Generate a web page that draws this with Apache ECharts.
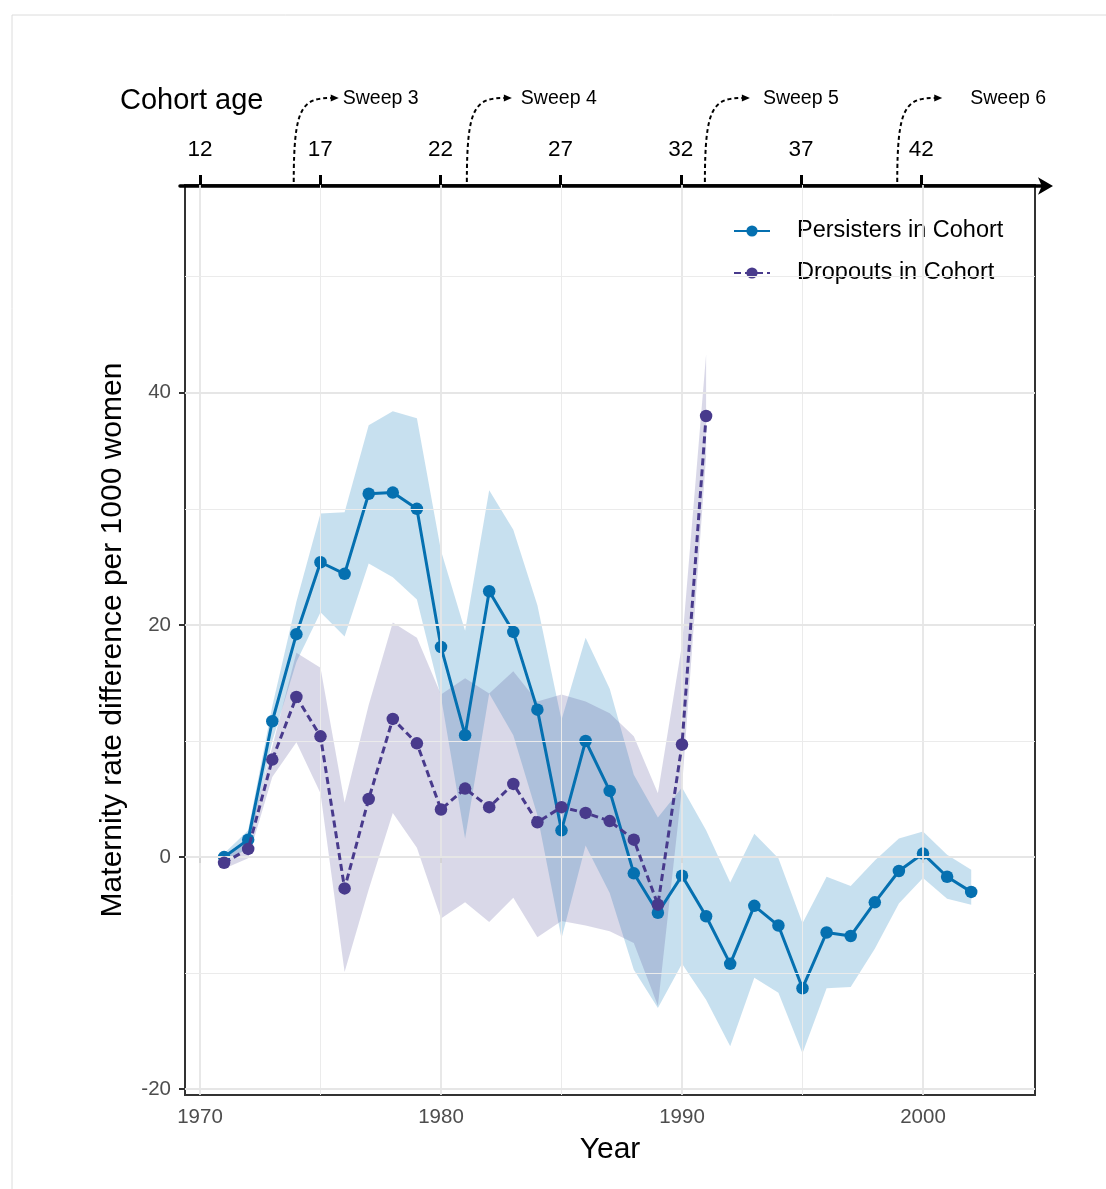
<!DOCTYPE html>
<html><head><meta charset="utf-8">
<script src="https://cdn.jsdelivr.net/npm/echarts@6/dist/echarts.min.js"></script>
<style>html,body{margin:0;padding:0;background:#fff}#c{width:1106px;height:1189px}</style>
</head><body><div id="c"></div>
<script>
// ---------- data ----------
const years = [1971,1972,1973,1974,1975,1976,1977,1978,1979,1980,1981,1982,1983,1984,1985,1986,1987,1988,1989,1990,1991,1992,1993,1994,1995,1996,1997,1998,1999,2000,2001,2002];
const persisters = [0, 1.5, 11.7, 19.2, 25.4, 24.4, 31.3, 31.4, 30.0, 18.1, 10.5, 22.9, 19.4, 12.7, 2.3, 10.0, 5.7, -1.4, -4.8, -1.6, -5.1, -9.2, -4.2, -5.9, -11.3, -6.5, -6.8, -3.9, -1.2, 0.3, -1.7, -3.0];
const persLow  = [-0.3, 0.7, 10.0, 16.8, 21.1, 19.0, 25.3, 24.1, 22.2, 13.8, 1.6, 14.1, 10.5, 3.6, -7.0, 1.0, -3.1, -9.7, -13.0, -9.2, -12.3, -16.3, -10.4, -11.7, -16.9, -11.3, -11.2, -7.9, -4.0, -1.8, -3.6, -4.1];
const persHigh = [0.3, 2.3, 13.0, 22.0, 29.6, 29.7, 37.2, 38.4, 37.8, 26.4, 19.5, 31.6, 28.2, 21.7, 11.8, 18.9, 14.5, 7.1, 3.4, 6.0, 2.3, -2.2, 2.0, -0.1, -5.7, -1.7, -2.5, -0.3, 1.6, 2.2, 0.2, -1.1];

const dropYears = [1971,1972,1973,1974,1975,1976,1977,1978,1979,1980,1981,1982,1983,1984,1985,1986,1987,1988,1989,1990,1991];
const dropouts = [-0.5, 0.7, 8.4, 13.8, 10.4, -2.7, 5.0, 11.9, 9.8, 4.1, 5.9, 4.3, 6.3, 3.0, 4.3, 3.8, 3.1, 1.5, -4.1, 9.7, 38.0];
const dropLow  = [-1.0, -0.1, 6.9, 9.9, 5.5, -9.9, -2.8, 3.8, 0.8, -5.3, -3.9, -5.6, -3.5, -6.9, -5.5, -5.9, -6.4, -7.4, -12.8, 6.0, 34.5];
const dropHigh = [0.2, 1.5, 9.5, 17.6, 16.3, 4.7, 13.1, 20.2, 18.9, 14.0, 15.4, 14.1, 16.0, 13.4, 14.0, 13.4, 12.4, 10.4, 5.5, 18.3, 43.3];

const yearTicks = [1970, 1980, 1990, 2000];
const yearMinor = [1975, 1985, 1995];
const yTicks = [-20, 0, 20, 40];
const yMinor = [-10, 10, 30, 50];
const ageTickYears = [1970, 1975, 1980, 1985, 1990, 1995, 2000];
const birthYear = 1958;
const sweepYears = [1973.9, 1981.1, 1991.0, 1999.0];
const sweepLabels = ['Sweep 3', 'Sweep 4', 'Sweep 5', 'Sweep 6'];
const sweepTextGap = [49, 54, 58, 73];

// ---------- styling ----------
const FONT = 'Liberation Sans, Arial, sans-serif';
const BLUE = '#0570b0';
const PURPLE = '#483a8c';
const X_MIN = 1969.378, X_MAX = 2004.647;
const Y_MIN = -20.5, Y_MAX = 57.9;

const pairs = (xs, ys) => xs.map((x, i) => [x, ys[i]]);
const triples = (xs, lo, hi) => xs.map((x, i) => [x, lo[i], hi[i]]);

function bandRenderer(xs, lo, hi, fill) {
  return function (params, api) {
    if (params.dataIndex !== 0) return null;
    const pts = [];
    for (let i = 0; i < xs.length; i++) pts.push(api.coord([xs[i], hi[i]]));
    for (let i = xs.length - 1; i >= 0; i--) pts.push(api.coord([xs[i], lo[i]]));
    return {type: 'polygon', shape: {points: pts}, style: {fill: fill}, silent: true};
  };
}

const gridLines = [];
yearTicks.forEach(v => gridLines.push({xAxis: v, lineStyle: {color: '#e6e6e6', width: 1.8, type: 'solid'}}));
yearMinor.forEach(v => gridLines.push({xAxis: v, lineStyle: {color: '#ebebeb', width: 1, type: 'solid'}}));
yTicks.forEach(v => gridLines.push({yAxis: v, lineStyle: {color: '#e6e6e6', width: 1.8, type: 'solid'}}));
yMinor.forEach(v => gridLines.push({yAxis: v, lineStyle: {color: '#ebebeb', width: 1, type: 'solid'}}));

const option = {
  animation: false,
  backgroundColor: '#fff',
  textStyle: {fontFamily: FONT},
  title: {
    text: 'Cohort age', left: 115, top: 81,
    textStyle: {fontFamily: FONT, fontSize: 29, fontWeight: 'normal', color: '#000'}
  },
  legend: {
    data: ['Persisters in Cohort', 'Dropouts in Cohort'],
    orient: 'vertical', left: 733, top: 219, padding: 0,
    itemWidth: 36, itemHeight: 14, itemGap: 18,
    textStyle: {fontFamily: FONT, fontSize: 23.5, color: '#000', padding: [0, 0, 0, 22]}
  },
  grid: [
    {left: 185, right: 71, top: 185, bottom: 94, show: true, borderColor: '#333', borderWidth: 2, backgroundColor: 'transparent', containLabel: false},
    {left: 180, right: 58, top: 185, height: 1, show: false, containLabel: false}
  ],
  xAxis: [
    {
      type: 'value', gridIndex: 0, min: X_MIN, max: X_MAX,
      name: 'Year', nameLocation: 'middle', nameGap: 40,
      nameTextStyle: {fontFamily: FONT, fontSize: 30, color: '#000'},
      axisLine: {show: false},
      axisTick: {show: true, length: 6, lineStyle: {color: '#333', width: 2}, customValues: yearTicks},
      axisLabel: {fontFamily: FONT, fontSize: 20.5, color: '#4d4d4d', margin: 12, customValues: yearTicks, formatter: v => String(v)},
      splitLine: {show: false}
    },
    {
      type: 'value', gridIndex: 1, position: 'top', min: 1969.170, max: 2005.27,
      axisLine: {show: true, lineStyle: {color: '#000', width: 3.5}, symbol: ['none', 'arrow'], symbolSize: [13, 15], symbolOffset: [0, 5]},
      axisTick: {show: true, inside: false, length: 11, lineStyle: {color: '#000', width: 3}, customValues: ageTickYears},
      axisLabel: {fontFamily: FONT, fontSize: 22.5, color: '#000', margin: 24, customValues: ageTickYears, formatter: v => String(Math.round(v - birthYear))},
      splitLine: {show: false}
    }
  ],
  yAxis: [
    {
      type: 'value', gridIndex: 0, min: Y_MIN, max: Y_MAX,
      name: 'Maternity rate difference per 1000 women', nameLocation: 'middle', nameGap: 57,
      nameTextStyle: {fontFamily: FONT, fontSize: 30, color: '#000'},
      axisLine: {show: false},
      axisTick: {show: true, length: 6, lineStyle: {color: '#333', width: 2}, customValues: yTicks},
      axisLabel: {fontFamily: FONT, fontSize: 20.5, color: '#4d4d4d', margin: 14, customValues: yTicks, formatter: v => String(v)},
      splitLine: {show: false}
    },
    {type: 'value', gridIndex: 1, show: false, min: 0, max: 1}
  ],
  series: [
    {
      name: 'grid', type: 'line', xAxisIndex: 0, yAxisIndex: 0, data: [], z: 0, silent: true,
      markLine: {silent: true, symbol: 'none', label: {show: false}, animation: false, data: gridLines}
    },
    {
      name: 'persBand', type: 'custom', z: 1, silent: true,
      data: triples(years, persLow, persHigh), encode: {x: 0, y: [1, 2]},
      renderItem: bandRenderer(years, persLow, persHigh, 'rgba(107,174,214,0.38)')
    },
    {
      name: 'dropBand', type: 'custom', z: 2, silent: true,
      data: triples(dropYears, dropLow, dropHigh), encode: {x: 0, y: [1, 2]},
      renderItem: bandRenderer(dropYears, dropLow, dropHigh, 'rgba(84,78,150,0.22)')
    },
    {
      name: 'Persisters in Cohort', type: 'line', z: 4,
      data: pairs(years, persisters), symbol: 'circle', symbolSize: 12.5, showSymbol: true,
      lineStyle: {color: BLUE, width: 3}, itemStyle: {color: BLUE}
    },
    {
      name: 'Dropouts in Cohort', type: 'line', z: 5,
      data: pairs(dropYears, dropouts), symbol: 'circle', symbolSize: 12.5, showSymbol: true,
      lineStyle: {color: PURPLE, width: 3, type: [7, 4]}, itemStyle: {color: PURPLE}
    }
  ]
};

const chart = echarts.init(document.getElementById('c'), null, {renderer: 'canvas'});
chart.setOption(option);

// ---------- sweep annotations, positioned through the axis scale ----------
const topY = chart.convertToPixel({yAxisIndex: 0}, Y_MAX);
const graphics = [
  {type: 'polyline', silent: true, shape: {points: [[12, 1189], [12, 15], [1106, 15]]}, style: {stroke: '#dcdcdc', lineWidth: 1, fill: null}}
];
sweepYears.forEach((yr, i) => {
  const x = chart.convertToPixel({xAxisIndex: 1}, yr);
  const yEnd = topY - 87;
  graphics.push({
    type: 'bezierCurve', silent: true, z: 10,
    shape: {x1: x, y1: topY - 3, cpx1: x, cpy1: topY - 78, cpx2: x + 8, cpy2: yEnd, x2: x + 38, y2: yEnd},
    style: {stroke: '#000', lineWidth: 2, lineDash: [4, 3], fill: null}
  });
  graphics.push({
    type: 'polygon', silent: true, z: 10,
    shape: {points: [[x + 37, yEnd - 3.5], [x + 45, yEnd], [x + 37, yEnd + 3.5]]},
    style: {fill: '#000'}
  });
  graphics.push({
    type: 'text', silent: true, z: 10, x: x + sweepTextGap[i], y: yEnd + 1,
    style: {text: sweepLabels[i], font: '19.5px ' + FONT, fill: '#000', verticalAlign: 'middle', align: 'left'}
  });
});
chart.setOption({graphic: graphics});
</script>
</body></html>
